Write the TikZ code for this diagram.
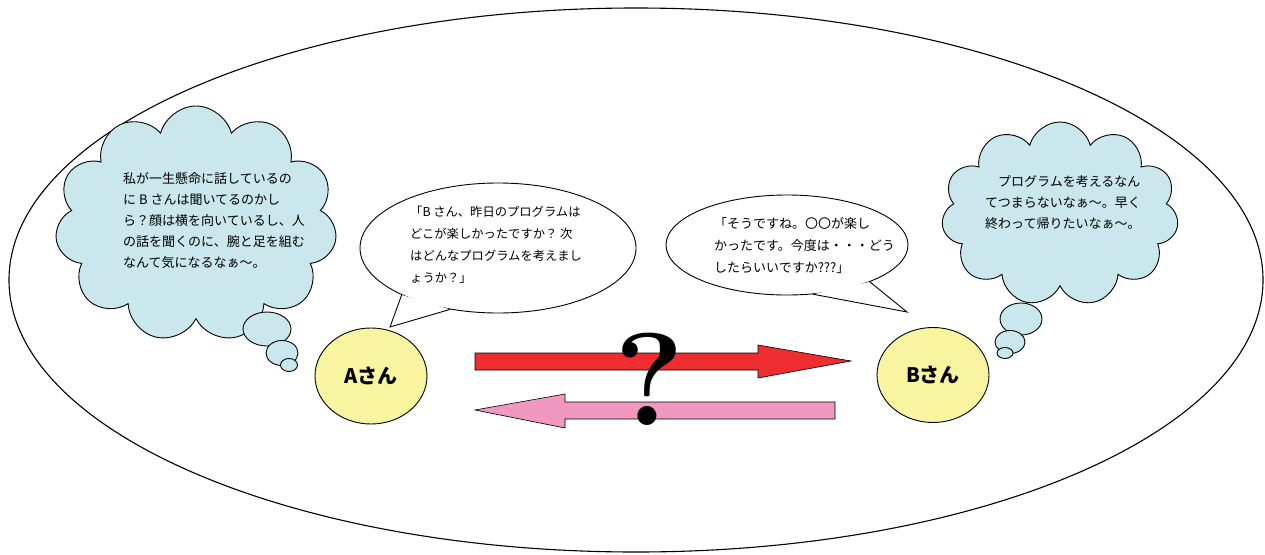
\documentclass[tikz,border=0pt]{standalone}
\usepackage{fontspec}
\newfontfamily\jp{Noto Sans CJK JP}
\usetikzlibrary{shapes.geometric,shapes.symbols}
\definecolor{cloudblue}{RGB}{201,231,237}
\definecolor{paleyellow}{RGB}{249,244,160}
\definecolor{arrowred}{RGB}{238,45,48}
\definecolor{arrowpink}{RGB}{241,152,192}
\tikzset{
  outline/.style={draw=black, line width=0.9pt},
  thought/.style={cloud, cloud puffs=11, outline, fill=cloudblue, inner sep=0pt},
  puff/.style={ellipse, outline, fill=cloudblue, inner sep=0pt},
  person/.style={ellipse, outline, fill=paleyellow, inner sep=0pt, font=\jp\bfseries\fontsize{20}{22}\selectfont},
  speech/.style={ellipse, outline, fill=white, inner sep=0pt},
  jtext/.style={anchor=north west, inner sep=0pt, align=left, font=\jp\fontsize{13}{21}\selectfont},
  blockarrow/.style={draw=black, line width=0.6pt, line join=miter}
}
\begin{document}
\begin{tikzpicture}[x=1pt,y=-1pt]
\useasboundingbox (0,0) rectangle (1265,554);
% outer ellipse
\node[ellipse, draw=black, line width=1.1pt, minimum width=1254pt, minimum height=544pt, inner sep=0pt] (frame) at (636,280) {};

% left thought cloud
\node[thought, minimum width=282pt, minimum height=236pt] (cloudA) at (196,224) {};
\node[puff, minimum width=48pt, minimum height=34pt] (pa1) at (267,329) {};
\node[puff, minimum width=32pt, minimum height=25pt] (pa2) at (282,353) {};
\node[puff, minimum width=17pt, minimum height=13pt] (pa3) at (289,365) {};
\node[jtext] (textA) at (123,172) {私が一生懸命に話しているの\\に B さんは聞いてるのかし\\ら？顔は横を向いているし、人\\の話を聞くのに、腕と足を組む\\なんて気になるなぁ～。};

% right thought cloud
\node[thought, minimum width=237pt, minimum height=184pt] (cloudB) at (1060,214) {};
\node[puff, minimum width=42pt, minimum height=32pt] (pb1) at (1021,319) {};
\node[puff, minimum width=30pt, minimum height=23pt] (pb2) at (1010,342) {};
\node[puff, minimum width=16pt, minimum height=11pt] (pb3) at (1005,353) {};
\node[jtext] (textB) at (985,175) {　プログラムを考えるなん\\てつまらないなぁ～。早く\\終わって帰りたいなぁ～。};

% speech bubble A
\node[speech, minimum width=276pt, minimum height=130pt] (sayA) at (498,248) {};
\coordinate (tipA) at (390,327);
\fill[white] (sayA.206) -- (tipA) -- (sayA.232) -- cycle;
\draw[line width=0.9pt, line join=miter] (sayA.206) -- (tipA) -- (sayA.232);
\node[jtext, font=\jp\fontsize{12.3}{22}\selectfont] (textSA) at (410,206) {「B さん、昨日のプログラムは\\どこが楽しかったですか？ 次\\はどんなプログラムを考えまし\\ょうか？」};

% speech bubble B
\node[speech, minimum width=242pt, minimum height=100pt] (sayB) at (787,245) {};
\coordinate (tipB) at (907,312);
\fill[white] (sayB.298) -- (tipB) -- (sayB.336) -- cycle;
\draw[line width=0.9pt, line join=miter] (sayB.298) -- (tipB) -- (sayB.336);
\node[jtext, font=\jp\fontsize{13}{22}\selectfont] (textSB) at (714,217) {「そうですね。〇〇が楽し\\かったです。今度は・・・どう\\したらいいですか???」};

% persons
\node[person, minimum width=112pt, minimum height=96pt] (A) at (371,376) {Aさん};
\node[person, minimum width=112pt, minimum height=95pt] (B) at (933,375) {Bさん};

% block arrows
\draw[blockarrow, fill=arrowred] (475,353) -- (758,353) -- (758,345) -- (851,361) -- (758,378) -- (758,370) -- (475,370) -- cycle;
\draw[blockarrow, fill=arrowpink] (835,402) -- (565,402) -- (565,394) -- (475,410) -- (565,428) -- (565,419) -- (835,419) -- cycle;

% question mark
\node[inner sep=0pt, font=\bfseries\fontsize{132}{132}\selectfont] (q) at (650,379) {?};
\end{tikzpicture}
\end{document}
